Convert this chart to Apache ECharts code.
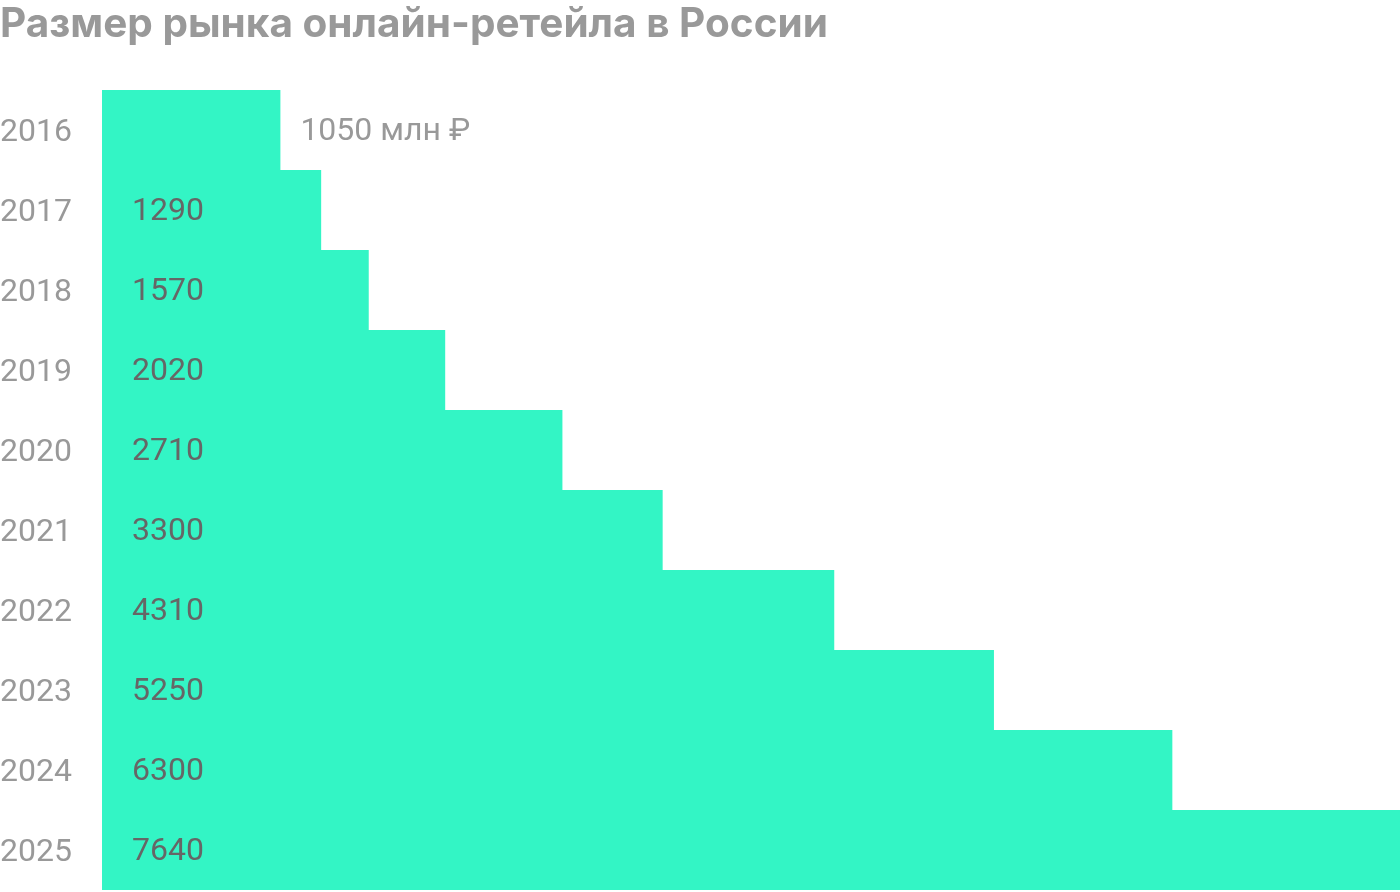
<!DOCTYPE html>
<html>
<head>
<meta charset="utf-8">
<script src="https://cdn.jsdelivr.net/npm/echarts@6/dist/echarts.min.js"></script>
<style>
html,body{margin:0;padding:0;background:#fff;}
#chart{width:1400px;height:892px;}
</style>
</head>
<body>
<div id="chart"></div>
<script>
const titleText = 'Размер рынка онлайн-ретейла в России';
const years = ['2016','2017','2018','2019','2020','2021','2022','2023','2024','2025'];
const values = [1050,1290,1570,2020,2710,3300,4310,5250,6300,7640];
const unitSuffix = ' млн ₽';

const chart = echarts.init(document.getElementById('chart'));
const data = values.map((v, i) => {
  if (i === 0) {
    return {
      value: v,
      label: {
        position: 'right',
        distance: 20,
        color: '#999999',
        formatter: p => p.value + unitSuffix
      }
    };
  }
  return v;
});

chart.setOption({
  animation: false,
  title: {
    text: titleText,
    left: 0,
    top: 4,
    padding: 0,
    textStyle: {
      fontFamily: 'Inter',
      fontWeight: 'bold',
      fontSize: 40.5,
      color: '#999999'
    }
  },
  grid: { left: 102, right: 0, top: 90, bottom: 2, containLabel: false, outerBoundsMode: 'none' },
  xAxis: {
    type: 'value',
    min: 0,
    max: 7640,
    show: false
  },
  yAxis: {
    type: 'category',
    data: years,
    inverse: true,
    axisLine: { show: false },
    axisTick: { show: false },
    splitLine: { show: false },
    axisLabel: {
      align: 'left',
      margin: 102,
      formatter: '{y|{value}}',
      rich: {
        y: {
          fontFamily: 'Roboto',
          fontSize: 32,
          color: '#999999',
          padding: [5, 0, 0, 0]
        }
      }
    }
  },
  series: [{
    type: 'bar',
    data: data,
    barCategoryGap: 0,
    barWidth: '100%',
    itemStyle: { color: '#33F5C5' },
    label: {
      show: true,
      position: 'insideLeft',
      distance: 30,
      offset: [0, 2],
      fontFamily: 'Roboto',
      fontSize: 32,
      color: '#666666'
    }
  }]
});
</script>
</body>
</html>
